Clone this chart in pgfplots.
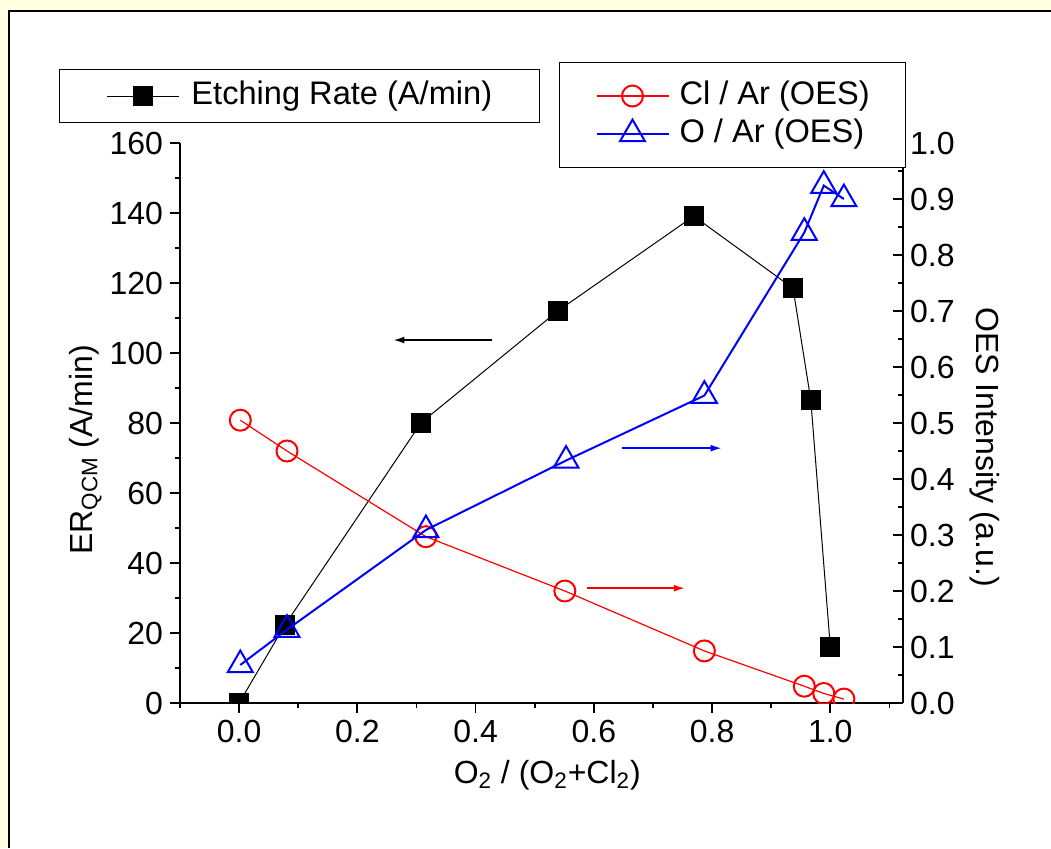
\documentclass[border=0pt]{standalone}
\usepackage{fontspec}
\setmainfont{Liberation Sans}
\usepackage{pgfplots}
\pgfplotsset{compat=1.18}
\usetikzlibrary{arrows.meta}
\definecolor{bgyellow}{RGB}{255,255,225}
\begin{document}
\begin{tikzpicture}[x=0.5pt,y=0.5pt]
\useasboundingbox (0,0) rectangle (1051,848);
\fill[bgyellow] (0,0) rectangle (1051,848);
\fill[white] (9,0) rectangle (1051,837);
\draw[line width=0.9pt] (9,0) -- (9,837) -- (1051,837);
\coordinate (axorigin) at (180,145);
\pgfplotsset{
 myaxis/.style={at={(axorigin)}, anchor=south west, scale only axis,
   width=361.5pt, height=280pt, xmin=-0.1, xmax=1.123,
   clip marker paths=true,
   font=\fontsize{16}{19}\selectfont,
   /pgf/number format/assume math mode=true,
   axis line style={line width=1pt},
   every tick/.style={black,line width=0.9pt},
   major tick length=5pt, minor tick length=2.5pt,
   legend cell align=left,
   legend image code/.code={\draw[##1,mark=none] (0pt,0pt)--(36pt,0pt); \draw[##1] plot coordinates {(18pt,0pt)};},
 }
}
\begin{axis}[myaxis, ymin=0, ymax=160,
  axis x line*=bottom, axis y line*=left, tick align=outside,
  xtick={0,0.2,0.4,0.6,0.8,1.0}, minor xtick={-0.1,0.1,0.3,0.5,0.7,0.9,1.1},
  x tick label style={/pgf/number format/fixed, /pgf/number format/fixed zerofill, /pgf/number format/precision=1},
  ytick={0,20,40,60,80,100,120,140,160}, minor ytick={10,30,50,70,90,110,130,150},
  xlabel={O\textsubscript{2} / (O\textsubscript{2}+Cl\textsubscript{2})},
  ylabel={ER\textsubscript{QCM} (A/min)},
  xlabel style={at={(axis description cs:0.508,-0.143)}, anchor=base},
  ylabel style={at={(axis description cs:-0.131,0.452)}, anchor=center},
  legend style={at={(axis description cs:-0.1674,1.1321)}, anchor=north west, draw=black, line width=0.5pt,
    inner xsep=23.5pt, inner ysep=5.5pt, column sep=6pt,
    nodes={inner sep=0pt, text height=12pt, text depth=3.5pt, font=\fontsize{16.3}{19}\selectfont}},
]
\addplot[black, line width=0.5pt, mark=square*, mark size=4.75pt, mark options={solid, fill=black, line width=0.3pt}] coordinates {
(0,0) (0.0775,22.3) (0.308,80.1) (0.539,112) (0.769,139.1) (0.937,118.5) (0.967,86.6) (1.0,16.1)};
\addlegendentry{Etching Rate (A/min)}
\draw[-{Latex[length=5.5pt,width=3.5pt]}, line width=0.8pt] (axis cs:0.428,103.7) -- (axis cs:0.261,103.7);
\end{axis}
\begin{axis}[myaxis, ymin=0, ymax=1,
  axis x line=none, axis y line*=right, tick align=inside,
  ytick={0,0.1,0.2,0.3,0.4,0.5,0.6,0.7,0.8,0.9,1.0},
  minor ytick={0.05,0.15,0.25,0.35,0.45,0.55,0.65,0.75,0.85,0.95},
  y tick label style={/pgf/number format/fixed, /pgf/number format/fixed zerofill, /pgf/number format/precision=1},
  ylabel={OES Intensity (a.u.)},
  ylabel style={at={(axis description cs:1.113,0.457)}, anchor=center, rotate=180},
  legend style={at={(axis description cs:0.5242,1.1446)}, anchor=north west, draw=black, line width=0.5pt,
    inner xsep=18pt, inner ysep=9pt, column sep=5pt, row sep=3.5pt,
    nodes={inner sep=0pt, text height=12pt, text depth=3.5pt, font=\fontsize{16.3}{19}\selectfont}},
]
\addplot[red, line width=0.6pt, mark=o, mark size=5.25pt, mark options={solid, fill=white, line width=1pt}] coordinates {
(0.002,0.505) (0.081,0.450) (0.316,0.297) (0.551,0.200) (0.787,0.093) (0.956,0.030) (0.989,0.017) (1.023,0.007)};
\addlegendentry{Cl / Ar (OES)}
\addplot[blue, line width=1pt, mark=triangle, mark size=7.2pt, mark options={solid, fill=white, line width=1pt}] coordinates {
(0.002,0.068) (0.081,0.131) (0.316,0.309) (0.553,0.433) (0.787,0.549) (0.956,0.840) (0.989,0.924) (1.023,0.900)};
\addlegendentry{O / Ar (OES)}
\draw[blue, -{Latex[length=5.5pt,width=3.5pt]}, line width=0.8pt] (axis cs:0.647,0.455) -- (axis cs:0.816,0.455);
\draw[red, -{Latex[length=5.5pt,width=3.5pt]}, line width=0.8pt] (axis cs:0.588,0.205) -- (axis cs:0.754,0.205);
\end{axis}
\end{tikzpicture}
\end{document}
